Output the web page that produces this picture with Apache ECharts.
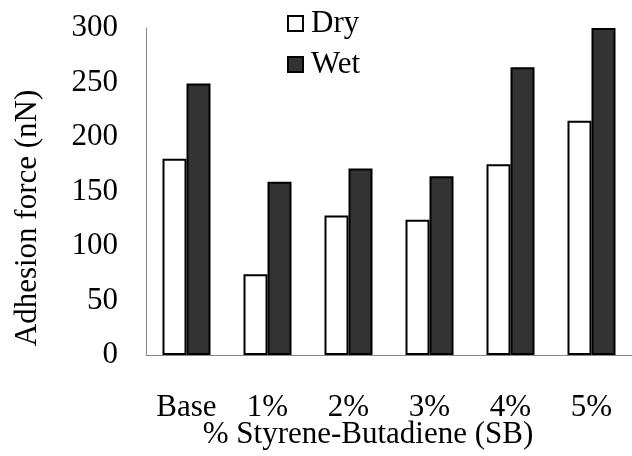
<!DOCTYPE html>
<html>
<head>
<meta charset="utf-8">
<script src="https://cdn.jsdelivr.net/npm/echarts@6/dist/echarts.min.js"></script>
<style>
  html, body { margin: 0; padding: 0; background: #fff; }
  #chart { width: 632px; height: 456px; }
</style>
</head>
<body>
<div id="chart"></div>
<script>
// Adhesion force by styrene-butadiene content
const categories = ['Base', '1%', '2%', '3%', '4%', '5%'];
const dryValues = [180, 74, 128, 124, 175, 215];
const wetValues = [249, 159, 171, 164, 264, 300];
const yTicks = { min: 0, max: 300, interval: 50 };

const serif = 'Liberation Serif, Times New Roman, serif';
const fs = 31;
const chart = echarts.init(document.getElementById('chart'), null, { renderer: 'canvas' });

chart.setOption({
  animation: false,
  backgroundColor: '#ffffff',
  textStyle: { fontFamily: serif },
  grid: { left: 146, top: 28, width: 497, height: 327 },
  legend: {
    orient: 'vertical',
    left: 282,
    top: 3,
    icon: 'rect',
    itemWidth: 15,
    itemHeight: 15,
    itemGap: 10,
    textStyle: { fontFamily: serif, fontSize: fs, color: '#000', padding: [0, 0, 0, 3] },
    data: ['Dry', 'Wet']
  },
  xAxis: {
    type: 'category',
    data: categories,
    axisLine: { lineStyle: { color: '#888888', width: 1 } },
    axisTick: { show: false },
    axisLabel: { fontFamily: serif, fontSize: fs, color: '#000', margin: 37 }
  },
  yAxis: {
    type: 'value',
    min: yTicks.min,
    max: yTicks.max,
    interval: yTicks.interval,
    axisLine: { show: true, lineStyle: { color: '#888888', width: 1 } },
    axisTick: { show: false },
    splitLine: { show: false },
    axisLabel: { fontFamily: serif, fontSize: fs, color: '#000', margin: 28 }
  },
  series: [
    {
      name: 'Dry',
      type: 'bar',
      data: dryValues,
      barWidth: 24,
      barGap: '0%',
      itemStyle: { color: '#ffffff', borderColor: '#000000', borderWidth: 2 }
    },
    {
      name: 'Wet',
      type: 'bar',
      data: wetValues,
      barWidth: 24,
      itemStyle: { color: '#333333', borderColor: '#000000', borderWidth: 2 }
    }
  ],
  graphic: [
    {
      // y-axis title, rotated
      type: 'text',
      x: 28,
      y: 218,
      rotation: Math.PI / 2,
      style: {
        text: 'Adhesion force (nN)',
        font: fs + 'px ' + serif,
        fill: '#000',
        align: 'center',
        verticalAlign: 'middle'
      }
    },
    {
      // x-axis title
      type: 'text',
      x: 368,
      y: 435,
      style: {
        text: '% Styrene-Butadiene (SB)',
        font: fs + 'px ' + serif,
        fill: '#000',
        align: 'center',
        verticalAlign: 'middle'
      }
    }
  ]
});
</script>
</body>
</html>
